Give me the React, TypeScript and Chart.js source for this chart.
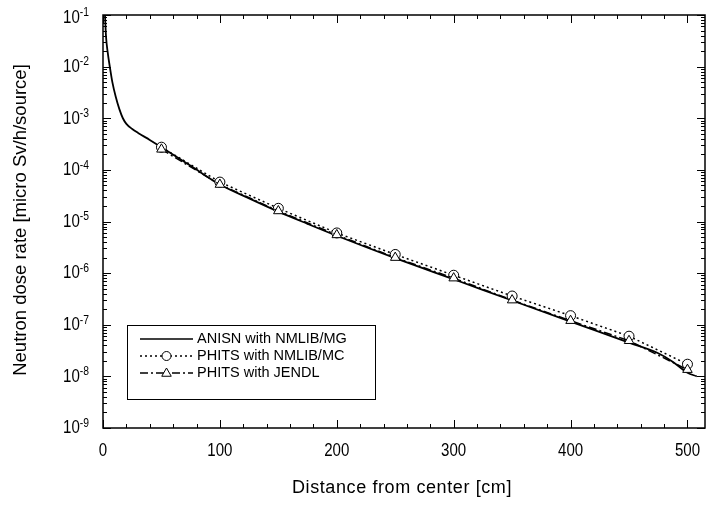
import React, { useEffect, useRef } from 'react';
import { Chart, registerables } from 'chart.js';
Chart.register(...registerables);

// ANISN with NMLIB/MG (solid line)
const anisnX = [1.7, 2.6, 4, 6, 8, 10.9, 14, 17, 20, 25, 30, 40, 50, 75, 100, 125, 150, 175, 200, 250, 300, 350, 400, 450, 475, 487, 500, 508];
const anisnY = [1e-1, 3.8e-2, 1.9e-2, 9.4e-3, 5.0e-3, 2.6e-3, 1.5e-3, 1.0e-3, 7.8e-4, 6.2e-4, 5.2e-4, 3.8e-4, 2.75e-4, 1.2e-4, 5.2e-5, 2.8e-5, 1.55e-5, 9e-6, 5.3e-6, 1.95e-6, 7.6e-7, 2.95e-7, 1.15e-7, 4.5e-8, 2.8e-8, 1.95e-8, 1.18e-8, 1.0e-8];

// PHITS points
const phitsX = [50, 100, 150, 200, 250, 300, 350, 400, 450, 500];
const nmlibY = [2.75e-4, 5.8e-5, 1.8e-5, 6.0e-6, 2.3e-6, 9.1e-7, 3.6e-7, 1.5e-7, 6.0e-8, 1.72e-8];
const jendlY = [2.5e-4, 5.2e-5, 1.6e-5, 5.5e-6, 2.0e-6, 8.0e-7, 3.0e-7, 1.2e-7, 4.9e-8, 1.35e-8];

const seriesLabels = ['ANISN with NMLIB/MG', 'PHITS with NMLIB/MC', 'PHITS with JENDL'];
const xTickValues = [0, 100, 200, 300, 400, 500];
const yExponents = [-1, -2, -3, -4, -5, -6, -7, -8, -9];
const xTitle = 'Distance from center [cm]';
const yTitle = 'Neutron dose rate [micro Sv/h/source]';

const FONT = '"Liberation Sans", Arial, sans-serif';
const NARROW = 0.86;

function drawNarrow(
  ctx: CanvasRenderingContext2D,
  text: string,
  x: number,
  y: number,
  size: number,
  align: CanvasTextAlign
) {
  ctx.save();
  ctx.font = `${size}px ${FONT}`;
  ctx.textAlign = align;
  ctx.textBaseline = 'middle';
  ctx.translate(x, y);
  ctx.scale(NARROW, 1);
  ctx.fillText(text, 0, 0);
  ctx.restore();
}

function narrowWidth(ctx: CanvasRenderingContext2D, text: string, size: number) {
  ctx.save();
  ctx.font = `${size}px ${FONT}`;
  const w = ctx.measureText(text).width * NARROW;
  ctx.restore();
  return w;
}

function drawTriangle(ctx: CanvasRenderingContext2D, x: number, y: number, r: number) {
  ctx.beginPath();
  ctx.moveTo(x, y - r);
  ctx.lineTo(x + r * 0.95, y + r * 0.65);
  ctx.lineTo(x - r * 0.95, y + r * 0.65);
  ctx.closePath();
  ctx.fillStyle = '#fff';
  ctx.fill();
  ctx.stroke();
}

const framePlugin = {
  id: 'framePlugin',
  afterDraw(chart: any) {
    const ctx: CanvasRenderingContext2D = chart.ctx;
    const xs = chart.scales.x;
    const ys = chart.scales.y;
    const a = chart.chartArea;
    ctx.save();
    ctx.strokeStyle = '#000';
    ctx.fillStyle = '#000';
    ctx.lineWidth = 1.5;
    ctx.setLineDash([]);
    ctx.strokeRect(a.left, a.top, a.right - a.left, a.bottom - a.top);

    ctx.lineWidth = 1;
    // x ticks
    for (let v = 0; v <= xs.max; v += 20) {
      const px = Math.round(xs.getPixelForValue(v)) + 0.5;
      const len = v % 100 === 0 ? 8 : 4;
      ctx.beginPath();
      ctx.moveTo(px, a.bottom);
      ctx.lineTo(px, a.bottom - len);
      ctx.moveTo(px, a.top);
      ctx.lineTo(px, a.top + len);
      ctx.stroke();
    }
    // y ticks
    for (let e = -9; e <= -1; e++) {
      for (let m = 1; m <= 9; m++) {
        const v = m * Math.pow(10, e);
        const py = Math.round(ys.getPixelForValue(v)) + 0.5;
        const len = m === 1 ? 8 : 4;
        ctx.beginPath();
        ctx.moveTo(a.left, py);
        ctx.lineTo(a.left + len, py);
        ctx.moveTo(a.right, py);
        ctx.lineTo(a.right - len, py);
        ctx.stroke();
        if (e === -1) break;
      }
    }
    // x tick labels
    ctx.fillStyle = '#000';
    xTickValues.forEach((v) => {
      drawNarrow(ctx, String(v), xs.getPixelForValue(v), a.bottom + 23, 17.5, 'center');
    });
    // y tick labels
    yExponents.forEach((e, i) => {
      const py = ys.getPixelForValue(Math.pow(10, e));
      const cy = i === 0 ? py + 3 : py + 0.5;
      const sup = String(e);
      const supW = narrowWidth(ctx, sup, 12);
      const right = a.left - 14;
      drawNarrow(ctx, sup, right - supW, cy - 5, 12, 'left');
      drawNarrow(ctx, '10', right - supW, cy, 17.5, 'right');
    });
    // axis titles
    ctx.textAlign = 'center';
    ctx.textBaseline = 'middle';
    ctx.font = `18px ${FONT}`;
    (ctx as any).letterSpacing = '0.6px';
    ctx.fillText(xTitle, (a.left + a.right) / 2 - 2, a.bottom + 60);
    (ctx as any).letterSpacing = '0px';
    ctx.font = `18.5px ${FONT}`;
    ctx.save();
    ctx.translate(21, 220);
    ctx.rotate(-Math.PI / 2);
    ctx.fillText(yTitle, 0, 0);
    ctx.restore();

    // legend
    const bx = a.left + 24;
    const by = a.bottom - 103;
    const bw = 248;
    const bh = 74;
    ctx.fillStyle = '#fff';
    ctx.fillRect(bx, by, bw, bh);
    ctx.strokeStyle = '#000';
    ctx.lineWidth = 1;
    ctx.strokeRect(bx + 0.5, by + 0.5, bw, bh);
    const rows = [by + 14, by + 31, by + 48];
    const lx0 = bx + 13;
    const lx1 = bx + 66;
    const lm = (lx0 + lx1) / 2;
    const dashes = [[], [2, 3], [8, 3, 2, 3]];
    rows.forEach((ry, i) => {
      ctx.lineWidth = 1.5;
      ctx.setLineDash(dashes[i]);
      ctx.beginPath();
      ctx.moveTo(lx0, ry);
      ctx.lineTo(lx1, ry);
      ctx.stroke();
      ctx.setLineDash([]);
      ctx.lineWidth = 1;
      if (i === 1) {
        ctx.beginPath();
        ctx.arc(lm, ry, 4.5, 0, Math.PI * 2);
        ctx.fillStyle = '#fff';
        ctx.fill();
        ctx.stroke();
      } else if (i === 2) {
        drawTriangle(ctx, lm, ry, 5);
      }
      ctx.fillStyle = '#000';
      ctx.font = `14.5px ${FONT}`;
      ctx.textAlign = 'left';
      ctx.textBaseline = 'middle';
      ctx.fillText(seriesLabels[i], bx + 70, ry);
    });
    ctx.restore();
  },
};

export default function App() {
  const ref = useRef<HTMLCanvasElement>(null);
  useEffect(() => {
    if (!ref.current) return;
    const chart = new Chart(ref.current, {
      type: 'line',
      data: {
        datasets: [
          {
            label: seriesLabels[0],
            data: anisnX.map((x, i) => ({ x, y: anisnY[i] })),
            borderColor: '#000',
            borderWidth: 1.8,
            pointRadius: 0,
            cubicInterpolationMode: 'monotone',
            order: 3,
          },
          {
            label: seriesLabels[1],
            data: phitsX.map((x, i) => ({ x, y: nmlibY[i] })),
            borderColor: '#000',
            borderWidth: 1.5,
            borderDash: [2, 3],
            pointStyle: 'circle',
            pointRadius: 5,
            pointBackgroundColor: '#fff',
            pointBorderColor: '#000',
            pointBorderWidth: 1,
            tension: 0,
            order: 2,
          },
          {
            label: seriesLabels[2],
            data: phitsX.map((x, i) => ({ x, y: jendlY[i] })),
            borderColor: '#000',
            borderWidth: 1.5,
            borderDash: [8, 3, 2, 3],
            pointStyle: 'triangle',
            pointRadius: 5.5,
            pointBackgroundColor: '#fff',
            pointBorderColor: '#000',
            pointBorderWidth: 1,
            tension: 0,
            order: 1,
          },
        ],
      },
      options: {
        animation: false,
        responsive: false,
        maintainAspectRatio: false,
        layout: { autoPadding: false, padding: { left: 103, right: 1, top: 15, bottom: 78 } },
        plugins: { legend: { display: false }, tooltip: { enabled: false } },
        scales: {
          x: { type: 'linear', min: 0, max: 515, display: false },
          y: { type: 'logarithmic', min: 1e-9, max: 1e-1, display: false },
        },
      },
      plugins: [framePlugin],
    });
    return () => chart.destroy();
  }, []);
  return (
    <div style={{ position: 'fixed', left: 0, top: 0, width: 706, height: 506, background: '#fff' }}>
      <canvas ref={ref} width={706} height={506} style={{ display: 'block' }} />
    </div>
  );
}
